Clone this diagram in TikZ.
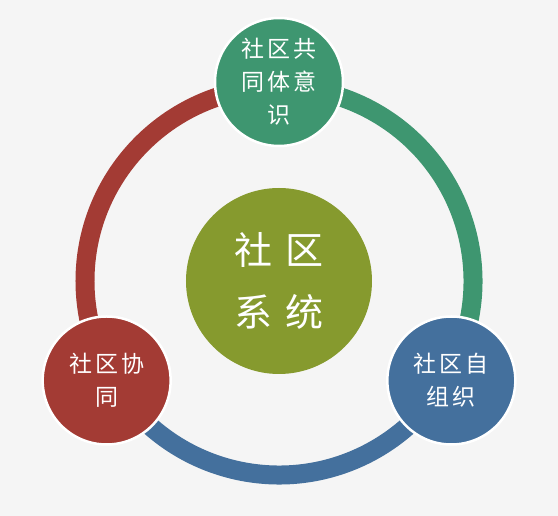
\documentclass[tikz,border=0pt]{standalone}
\usepackage{fontspec}
\newfontfamily\cjk{Noto Sans CJK SC}
\usetikzlibrary{positioning}
\definecolor{bggray}{HTML}{F5F5F5}
\definecolor{ringgreen}{HTML}{3E9670}
\definecolor{ringred}{HTML}{A33B34}
\definecolor{ringblue}{HTML}{44709D}
\definecolor{coreolive}{HTML}{869A2E}
\newcommand{\gap}{\hspace{3pt}}
\newcommand{\biggap}{\hspace{13pt}}
\tikzset{
    ringarc/.style={line width=19pt},
    smallcircle/.style={circle, draw=white, line width=2.5pt, minimum size=128pt, inner sep=0pt, text=white, align=center, font=\cjk\fontsize{23}{33}\selectfont},
    corecircle/.style={circle, minimum size=186pt, inner sep=0pt, fill=coreolive, text=white, align=center, font=\cjk\fontsize{38}{62}\selectfont},
}
\begin{document}
\begin{tikzpicture}
\fill[bggray] (-279pt,-235pt) rectangle (279pt,281pt);
\useasboundingbox (-279pt,-235pt) rectangle (279pt,281pt);

%Ring
\coordinate (ringtop) at (90:194pt);
\coordinate (ringleft) at (210:194pt);
\coordinate (ringright) at (330:194pt);
\draw[ringarc, ringred] (ringtop) arc[start angle=90, end angle=210, radius=194pt];
\draw[ringarc, ringblue] (ringleft) arc[start angle=210, end angle=330, radius=194pt];
\draw[ringarc, ringgreen] (ringright) arc[start angle=-30, end angle=90, radius=194pt];

%Nodes
\node[corecircle] (system) at (0,0) {社\biggap 区\\系\biggap 统};
\node[smallcircle, fill=ringgreen] (identity) at (90:199pt) {社\gap 区\gap 共\\同\gap 体\gap 意\\识};
\node[smallcircle, fill=ringred] (synergy) at (210:199pt) {社\gap 区\gap 协\\同};
\node[smallcircle, fill=ringblue] (selforg) at (330:199pt) {社\gap 区\gap 自\\组\gap 织};
\end{tikzpicture}
\end{document}
